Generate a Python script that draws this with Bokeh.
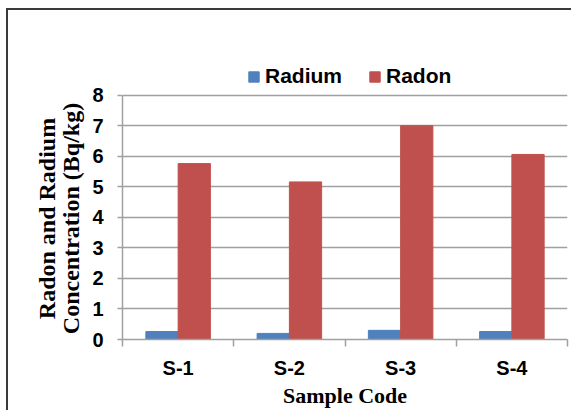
from bokeh.plotting import figure
from bokeh.models import Range1d, FixedTicker, Legend, LegendItem, ColumnDataSource
from bokeh.transform import dodge
from bokeh.embed import file_html
from bokeh.resources import INLINE

categories = ["S-1", "S-2", "S-3", "S-4"]
radium = [0.26, 0.20, 0.30, 0.26]
radon = [5.76, 5.16, 7.00, 6.06]
y_ticks = [0, 1, 2, 3, 4, 5, 6, 7, 8]

positions = list(range(1, len(categories) + 1))
src = ColumnDataSource(dict(x=positions, radium=radium, radon=radon))

p = figure(width=571, height=410, output_backend="svg", toolbar_location=None,
           x_range=Range1d(0.5, len(categories) + 0.5), y_range=Range1d(0, 9.3),
           min_border_left=122, min_border_right=4, min_border_top=55, min_border_bottom=68)
line_col = "#3a3a3a"
p.border_fill_color = None
p.styles = {
    "background": (f"linear-gradient({line_col},{line_col}) 6px 8px / 2px 100% no-repeat, "
                   f"linear-gradient({line_col},{line_col}) 6px 8px / 100% 2px no-repeat, white")
}
p.outline_line_color = None
p.background_fill_color = "white"

r1 = p.vbar(x=dodge("x", -0.145), top="radium", width=0.29, source=src,
            fill_color="#4F81BD", line_color="#4F81BD")
r2 = p.vbar(x=dodge("x", 0.145), top="radon", width=0.29, source=src,
            fill_color="#C0504D", line_color="#C0504D")

grey = "#A0A0A0"
pad = "\u00a0" * 7
# y axis
p.yaxis.ticker = FixedTicker(ticks=y_ticks)
p.yaxis.bounds = (y_ticks[0], y_ticks[-1])
p.yaxis.axis_line_color = grey
p.yaxis.axis_line_width = 1.5
p.yaxis.major_tick_line_color = grey
p.yaxis.major_tick_line_width = 1.5
p.yaxis.major_tick_out = 5
p.yaxis.major_tick_in = 0
p.yaxis.minor_tick_line_color = None
p.yaxis.major_label_standoff = 14
p.yaxis.major_label_text_font = "Liberation Sans"
p.yaxis.major_label_text_font_style = "bold"
p.yaxis.major_label_text_font_size = "20px"
p.yaxis.major_label_text_color = "black"
p.yaxis.axis_label = "Radon and Radium" + pad + "\nConcentration (Bq/kg)" + pad
p.yaxis.axis_label_text_font = "Liberation Serif"
p.yaxis.axis_label_text_font_style = "bold"
p.yaxis.axis_label_text_font_size = "24px"
p.yaxis.axis_label_text_line_height = 0.95
p.yaxis.axis_label_text_color = "black"
p.yaxis.axis_label_standoff = 5

# x axis
p.xaxis.ticker = FixedTicker(ticks=positions,
                             minor_ticks=[x - 0.5 for x in positions] + [positions[-1] + 0.5])
p.xaxis.major_label_overrides = {pos: lab for pos, lab in zip(positions, categories)}
p.xaxis.axis_line_color = grey
p.xaxis.axis_line_width = 1.5
p.xaxis.major_tick_line_color = None
p.xaxis.minor_tick_line_color = grey
p.xaxis.minor_tick_line_width = 1.5
p.xaxis.minor_tick_out = 7
p.xaxis.minor_tick_in = 0
p.xaxis.major_label_standoff = 10
p.xaxis.major_label_text_font = "Liberation Sans"
p.xaxis.major_label_text_font_style = "bold"
p.xaxis.major_label_text_font_size = "20px"
p.xaxis.major_label_text_color = "black"
p.xaxis.axis_label = "Sample Code"
p.xaxis.axis_label_text_font = "Liberation Serif"
p.xaxis.axis_label_text_font_style = "bold"
p.xaxis.axis_label_text_font_size = "22px"
p.xaxis.axis_label_text_color = "black"
p.xaxis.axis_label_standoff = 1

p.xgrid.visible = False
p.ygrid.grid_line_color = grey
p.ygrid.grid_line_width = 1.5
p.ygrid.bounds = (y_ticks[0], y_ticks[-1])

legend = Legend(items=[LegendItem(label="Radium", renderers=[r1]),
                       LegendItem(label="Radon", renderers=[r2])],
                orientation="horizontal", location=(125, 251),
                padding=0, margin=0, spacing=26,
                glyph_width=13, glyph_height=13, label_standoff=5,
                border_line_color=None, background_fill_alpha=0,
                label_text_font="Liberation Sans", label_text_font_style="bold",
                label_text_font_size="21px", label_text_color="black")
p.add_layout(legend)

open("out.html", "w").write(file_html(p, INLINE))
